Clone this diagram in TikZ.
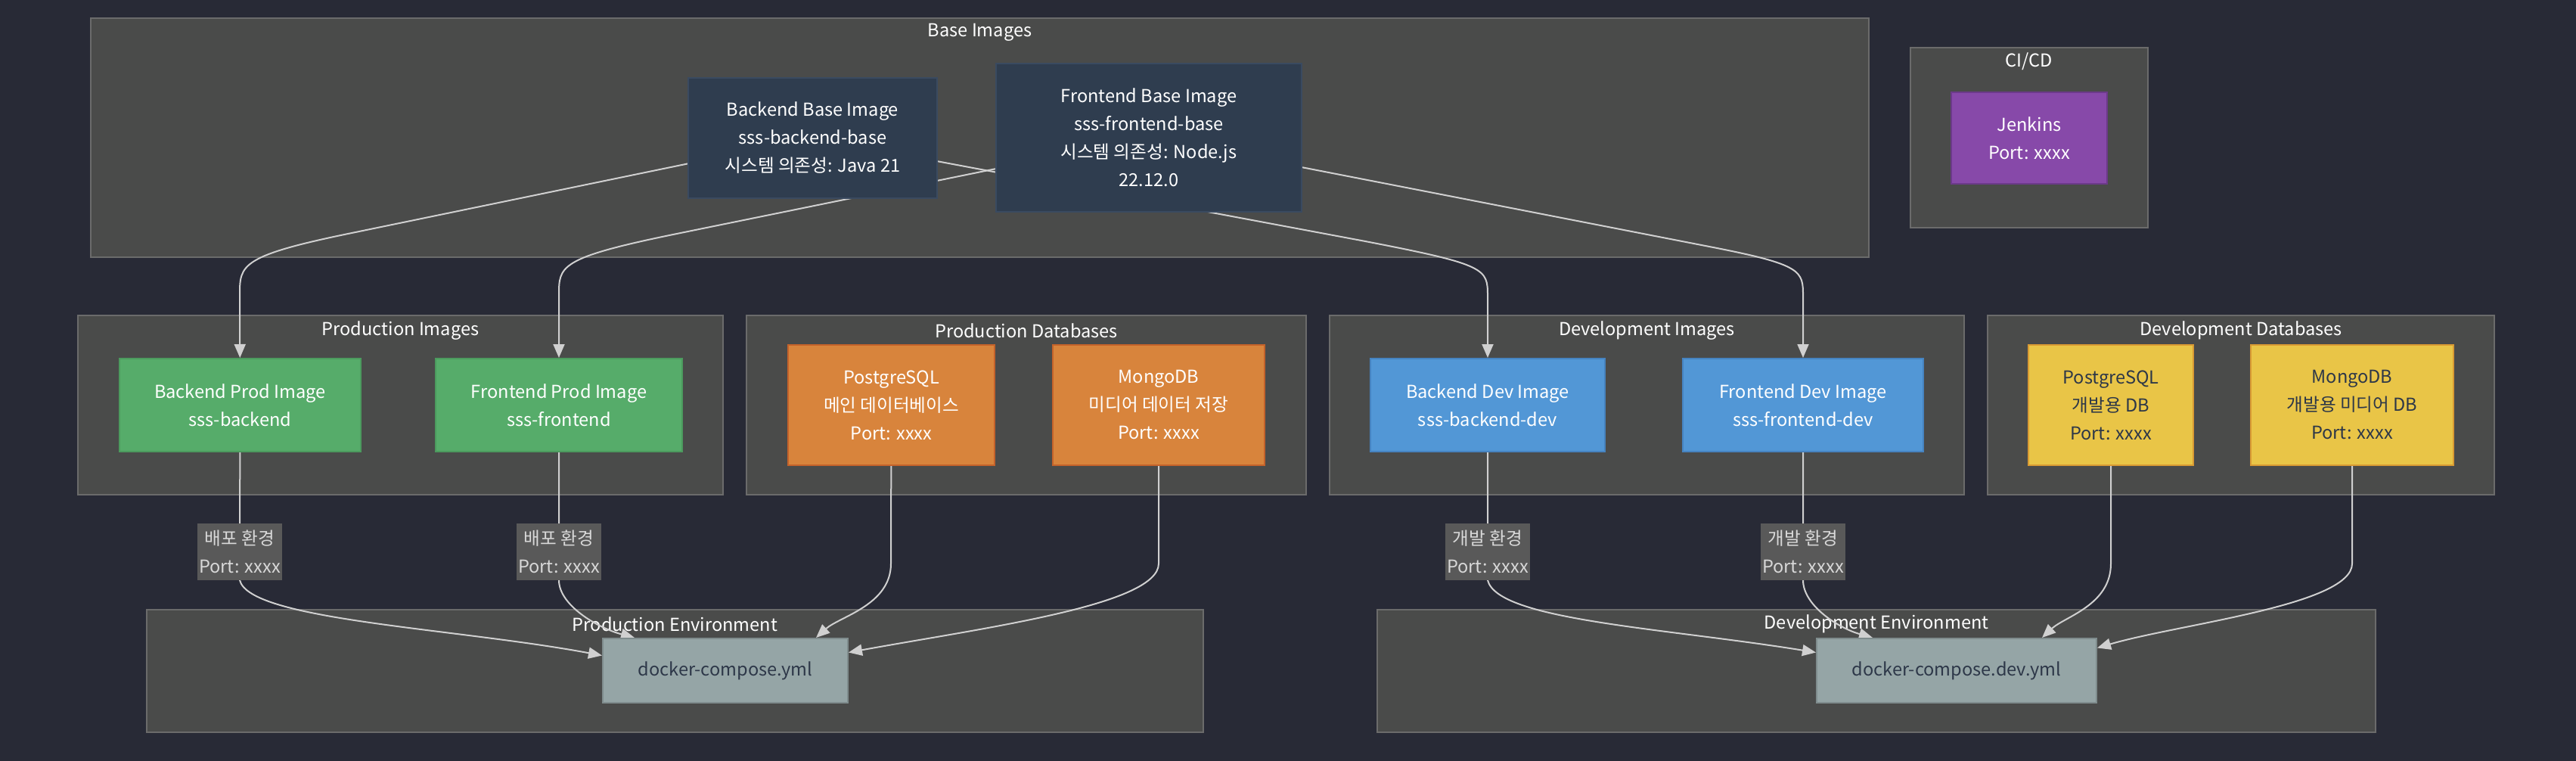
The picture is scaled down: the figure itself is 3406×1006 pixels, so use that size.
\documentclass[tikz,border=0pt]{standalone}
\usepackage{fontspec}
\setmainfont{Noto Sans CJK KR}
\usetikzlibrary{arrows.meta}
\pgfdeclarelayer{bg}
\pgfdeclarelayer{links}
\pgfsetlayers{bg,links,main}

\definecolor{bgc}{HTML}{282A36}
\definecolor{grpfill}{HTML}{4A4B4A}
\definecolor{grpline}{HTML}{6B6B6B}
\definecolor{basefill}{HTML}{2F3D4F}
\definecolor{baseline}{HTML}{3A4A60}
\definecolor{prodfill}{HTML}{56AC6A}
\definecolor{prodline}{HTML}{4C9A5E}
\definecolor{dbfill}{HTML}{D8843C}
\definecolor{dbline}{HTML}{C4622A}
\definecolor{devfill}{HTML}{5297D6}
\definecolor{devline}{HTML}{4683C0}
\definecolor{devdbfill}{HTML}{E9C547}
\definecolor{devdbline}{HTML}{D99A33}
\definecolor{cifill}{HTML}{8749A9}
\definecolor{ciline}{HTML}{6C3A8A}
\definecolor{envfill}{HTML}{95A5A6}
\definecolor{envline}{HTML}{7F8C8D}
\definecolor{lblfill}{HTML}{595959}
\definecolor{lbltext}{HTML}{D8D8D8}
\definecolor{linkc}{HTML}{D0D0D0}
\definecolor{darktext}{HTML}{2D3748}

\begin{document}
\begin{tikzpicture}[x=0.5pt,y=-0.5pt,
  every node/.style={font=\fontsize{11.8pt}{18.5pt}\selectfont, align=center},
  imgbox/.style={draw, line width=1pt, inner sep=0pt},
  baseimg/.style={imgbox, fill=basefill, draw=baseline, text=white},
  prodimg/.style={imgbox, fill=prodfill, draw=prodline, text=white, minimum height=61.5pt},
  proddb/.style={imgbox, fill=dbfill, draw=dbline, text=white, minimum height=79.5pt},
  devimg/.style={imgbox, fill=devfill, draw=devline, text=white, minimum height=61.5pt},
  devdb/.style={imgbox, fill=devdbfill, draw=devdbline, text=darktext, minimum height=79.5pt},
  cinode/.style={imgbox, fill=cifill, draw=ciline, text=white},
  envfile/.style={imgbox, fill=envfill, draw=envline, text=darktext, minimum height=42.5pt},
  grp/.style={fill=grpfill, draw=grpline, line width=1.2pt, inner sep=0pt},
  grptitle/.style={text=white},
  link/.style={draw=linkc, line width=1pt, -{Triangle[length=9pt,width=7.5pt]}},
  linklabel/.style={fill=lblfill, text=lbltext, inner sep=0pt, minimum width=56pt, minimum height=37.5pt}]
	\useasboundingbox (0,0) rectangle (3406,1006);
	% base images
	\node[baseimg, minimum width=164.5pt, minimum height=79.5pt] (bbase) at (1074.5,182.5) {Backend Base Image\\sss-backend-base\\시스템 의존성: Java 21};
	\node[baseimg, minimum width=202pt, minimum height=98pt] (fbase) at (1519,182) {Frontend Base Image\\sss-frontend-base\\시스템 의존성: Node.js\\22.12.0};
	\node[cinode, minimum width=103pt, minimum height=60.5pt] (jenkins) at (2683,182.5) {Jenkins\\Port: xxxx};
	% images and databases
	\node[prodimg, minimum width=159.5pt] (bprod) at (317.5,535.5) {Backend Prod Image\\sss-backend};
	\node[prodimg, minimum width=163pt] (fprod) at (739,535.5) {Frontend Prod Image\\sss-frontend};
	\node[proddb, minimum width=136.5pt] (pg) at (1178.5,535.5) {PostgreSQL\\메인 데이터베이스\\Port: xxxx};
	\node[proddb, minimum width=140pt] (mongo) at (1532,535.5) {MongoDB\\미디어 데이터 저장\\Port: xxxx};
	\node[devimg, minimum width=155pt] (bdev) at (1967,535.5) {Backend Dev Image\\sss-backend-dev};
	\node[devimg, minimum width=159pt] (fdev) at (2384,535.5) {Frontend Dev Image\\sss-frontend-dev};
	\node[devdb, minimum width=109pt] (dpg) at (2791,535.5) {PostgreSQL\\개발용 DB\\Port: xxxx};
	\node[devdb, minimum width=134pt] (dmongo) at (3110,535.5) {MongoDB\\개발용 미디어 DB\\Port: xxxx};
	% environments
	\node[envfile, minimum width=162pt] (pcomp) at (959,886.5) {docker-compose.yml};
	\node[envfile, minimum width=185pt] (dcomp) at (2587,886.5) {docker-compose.dev.yml};

	\begin{pgfonlayer}{bg}
	\fill[bgc] (0,0) rectangle (3406,1006);
	\node[grp, minimum width=1175.5pt, minimum height=158pt] (gbase) at (1295.5,182) {};
	\node[grp, minimum width=157pt, minimum height=119pt] (gci) at (2683,182) {};
	\node[grp, minimum width=426.5pt, minimum height=118.5pt] (gprodimg) at (529.5,535.5) {};
	\node[grp, minimum width=370pt, minimum height=118.5pt] (gproddb) at (1357,535.5) {};
	\node[grp, minimum width=419.5pt, minimum height=118.5pt] (gdevimg) at (2177.5,535.5) {};
	\node[grp, minimum width=335pt, minimum height=118.5pt] (gdevdb) at (2963,535.5) {};
	\node[grp, minimum width=698.5pt, minimum height=81pt] (gprodenv) at (892.5,887) {};
	\node[grp, minimum width=660pt, minimum height=81pt] (gdevenv) at (2481,887) {};
	\node[grptitle] at (1295.5,43) {Base Images};
	\node[grptitle] at (2683,81) {CI/CD};
	\node[grptitle] at (529.5,437) {Production Images};
	\node[grptitle] at (1357,437) {Production Databases};
	\node[grptitle] at (2177.5,437) {Development Images};
	\node[grptitle] at (2963,437) {Development Databases};
	\node[grptitle] at (892.5,825) {Production Environment};
	\node[grptitle] at (2481,825) {Development Environment};
	\end{pgfonlayer}

	\begin{pgfonlayer}{links}
	\draw[link] (bbase) -- (470,307) .. controls (317,338) and (317,350) .. (317,390) -- (bprod);
	\draw[link] (fbase) -- (890,310) .. controls (739,341) and (739,352) .. (739,390) -- (fprod);
	\draw[link] (bbase) -- (1800,318) .. controls (1967,350) and (1967,355) .. (1967,392) -- (bdev);
	\draw[link] (fbase) -- (2260,326) .. controls (2384,350) and (2384,358) .. (2384,392) -- (fdev);
	\draw[link] (bprod) -- (317,729) node[linklabel] {배포 환경\\Port: xxxx} -- (317,767) .. controls (330,820) and (600,830) .. ([yshift=10pt]pcomp.west);
	\draw[link] (fprod) -- (739,729) node[linklabel] {배포 환경\\Port: xxxx} -- (739,767) .. controls (739,800) and (790,830) .. ([xshift=-60pt]pcomp.north);
	\draw[link] (pg) -- (1178,745) .. controls (1178,800) and (1110,815) .. ([xshift=60pt]pcomp.north);
	\draw[link] (mongo) -- (1532,745) .. controls (1532,800) and (1300,830) .. ([yshift=12pt]pcomp.east);
	\draw[link] (bdev) -- (1967,729) node[linklabel] {개발 환경\\Port: xxxx} -- (1967,767) .. controls (1980,820) and (2200,830) .. ([yshift=12pt]dcomp.west);
	\draw[link] (fdev) -- (2384,729) node[linklabel] {개발 환경\\Port: xxxx} -- (2384,767) .. controls (2384,800) and (2430,830) .. ([xshift=-55.5pt]dcomp.north);
	\draw[link] (dpg) -- (2791,745) .. controls (2791,800) and (2730,815) .. ([xshift=56.5pt]dcomp.north);
	\draw[link] (dmongo) -- (3110,745) .. controls (3110,800) and (2880,825) .. ([yshift=15pt]dcomp.east);
	\end{pgfonlayer}
\end{tikzpicture}
\end{document}
